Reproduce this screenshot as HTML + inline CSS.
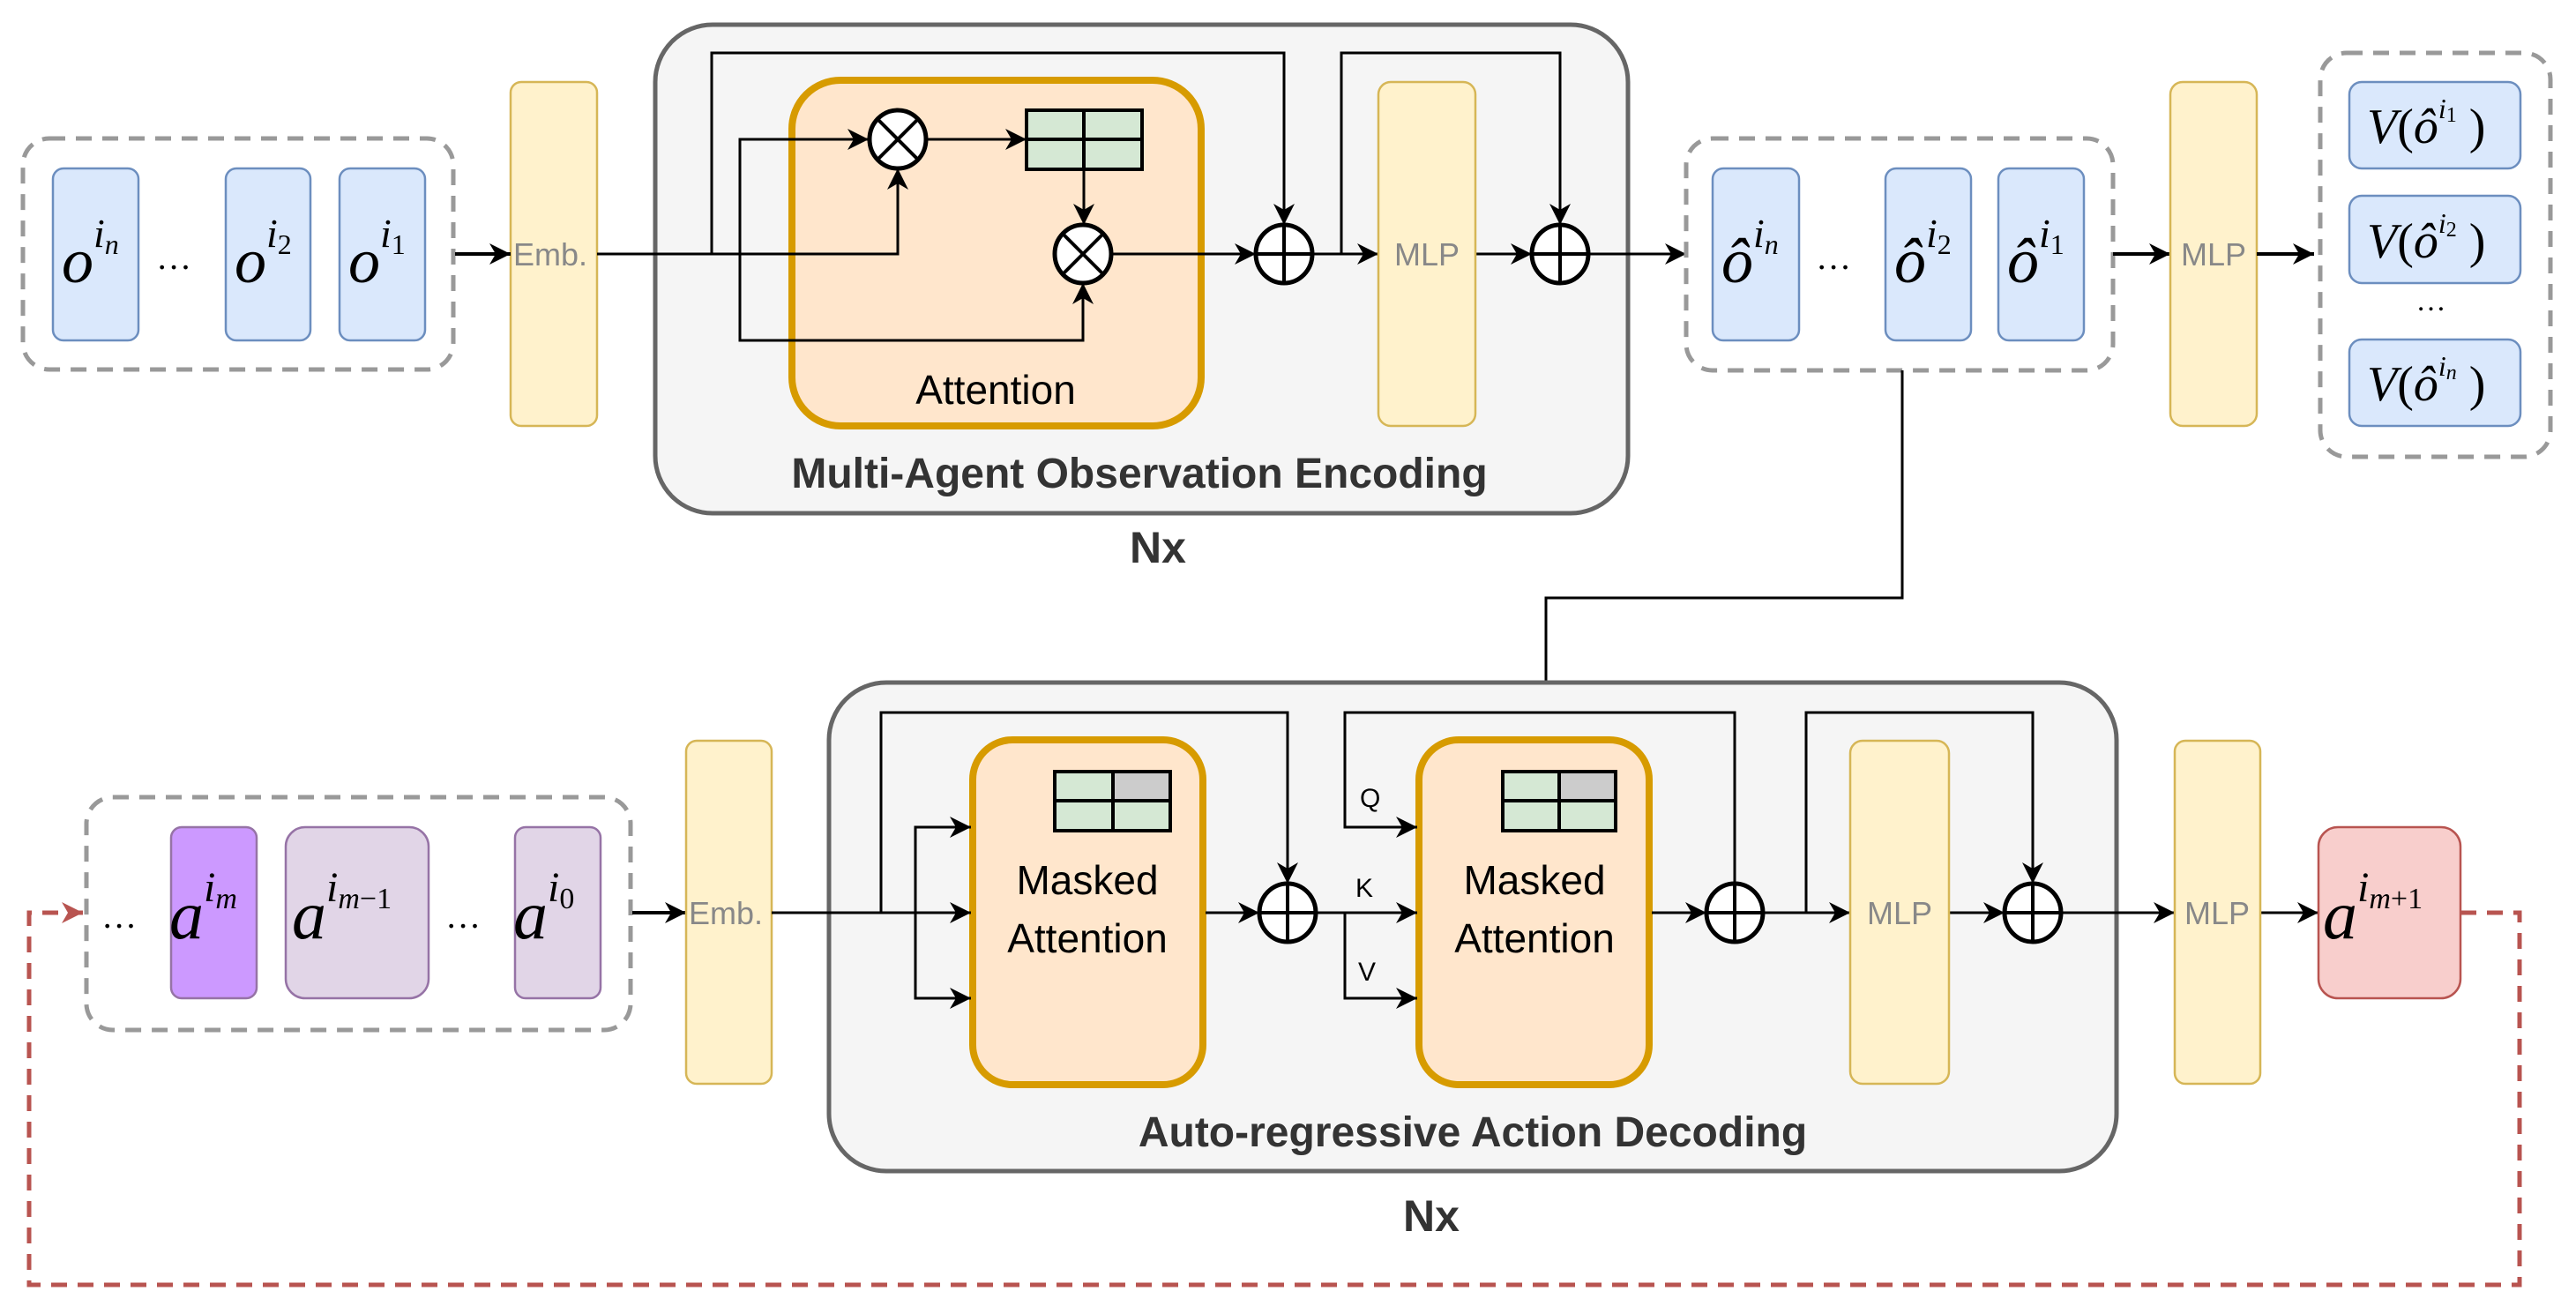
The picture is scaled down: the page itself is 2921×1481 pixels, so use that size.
<!DOCTYPE html>
<html><head><meta charset="utf-8"><style>
html,body{margin:0;padding:0;background:#fff;}
svg{display:block;}
.m{font-family:"Liberation Serif",serif;font-style:italic;fill:#000;}
.g{font-family:"Liberation Sans",sans-serif;fill:#888;font-size:36px;}
.b{font-family:"Liberation Sans",sans-serif;font-weight:bold;fill:#333;}
.t{font-family:"Liberation Sans",sans-serif;fill:#000;}
</style></head><body>
<svg width="2921" height="1481" viewBox="0 0 2921 1481" xmlns="http://www.w3.org/2000/svg">
<defs>
<marker id="a" markerUnits="userSpaceOnUse" markerWidth="30" markerHeight="30" refX="24" refY="12" orient="auto">
<path d="M0,0 L24,12 L0,24 L7,12 Z" fill="#000"/></marker>
<marker id="r" markerUnits="userSpaceOnUse" markerWidth="30" markerHeight="30" refX="24" refY="12" orient="auto">
<path d="M0,0 L24,12 L0,24 L7,12 Z" fill="#b85450"/></marker>
</defs>

<!-- ===== TOP ===== -->
<rect x="743" y="28" width="1103" height="554" rx="65" fill="#f5f5f5" stroke="#666" stroke-width="5"/>
<rect x="26" y="157" width="488" height="262" rx="30" fill="none" stroke="#999" stroke-width="5" stroke-dasharray="18,12"/>
<g fill="#dae8fc" stroke="#6c8ebf" stroke-width="2.5">
<rect x="60" y="191" width="97" height="195" rx="12"/>
<rect x="256" y="191" width="96" height="195" rx="12"/>
<rect x="385" y="191" width="97" height="195" rx="12"/>
</g>
<text class="m" x="70" y="320" font-size="72">o<tspan font-size="46" dy="-40">i</tspan><tspan font-size="32" dy="8">n</tspan></text>
<text class="m" x="180" y="305" font-size="40" font-style="normal">…</text>
<text class="m" x="266" y="320" font-size="72">o<tspan font-size="46" dy="-40">i</tspan><tspan font-size="32" dy="8" font-style="normal">2</tspan></text>
<text class="m" x="395" y="320" font-size="72">o<tspan font-size="46" dy="-40">i</tspan><tspan font-size="32" dy="8" font-style="normal">1</tspan></text>

<rect x="579" y="93" width="98" height="390" rx="12" fill="#fff2cc" stroke="#d6b656" stroke-width="2.5"/>
<text class="g" x="582" y="301">Emb.</text>
<line x1="516" y1="288" x2="579" y2="288" stroke="#000" stroke-width="4" marker-end="url(#a)"/>

<rect x="898" y="91" width="464" height="392" rx="55" fill="#ffe6cc" stroke="#d79b00" stroke-width="8"/>
<rect x="1164" y="125" width="131" height="67" fill="#d5e8d4" stroke="#000" stroke-width="4"/>
<line x1="1164" y1="158" x2="1295" y2="158" stroke="#000" stroke-width="4"/>
<line x1="1229" y1="125" x2="1229" y2="192" stroke="#000" stroke-width="4"/>
<text class="t" x="1129" y="458" font-size="46" text-anchor="middle">Attention</text>
<text class="b" x="1292" y="553" font-size="48" text-anchor="middle">Multi-Agent Observation Encoding</text>
<text class="b" x="1313" y="638" font-size="50" text-anchor="middle">Nx</text>

<g fill="none" stroke="#000" stroke-width="3">
<polyline points="677,288 1018,288 1018,191" marker-end="url(#a)"/>
<polyline points="807,288 807,60 1456,60 1456,255" marker-end="url(#a)"/>
<polyline points="839,288 839,158 985,158" marker-end="url(#a)"/>
<polyline points="839,288 839,386 1228,386 1228,321" marker-end="url(#a)"/>
<line x1="1051" y1="158" x2="1164" y2="158" marker-end="url(#a)"/>
<line x1="1229" y1="192" x2="1229" y2="255" marker-end="url(#a)"/>
<line x1="1261" y1="288" x2="1424" y2="288" marker-end="url(#a)"/>
<polyline points="1488,288 1563,288" marker-end="url(#a)"/>
<polyline points="1521,288 1521,60 1769,60 1769,255" marker-end="url(#a)"/>
<line x1="1673" y1="288" x2="1737" y2="288" marker-end="url(#a)"/>
<line x1="1801" y1="288" x2="1912" y2="288" marker-end="url(#a)"/>
</g>
<g stroke="#000" stroke-width="5" fill="#fff">
<ellipse cx="1018" cy="158" rx="32" ry="33"/>
<ellipse cx="1228" cy="288" rx="32" ry="33"/>
<ellipse cx="1456" cy="288" rx="32" ry="33"/>
<ellipse cx="1769" cy="288" rx="32" ry="33"/>
</g>
<g stroke="#000" stroke-width="4">
<line x1="995" y1="135" x2="1041" y2="181"/><line x1="1041" y1="135" x2="995" y2="181"/>
<line x1="1205" y1="265" x2="1251" y2="311"/><line x1="1251" y1="265" x2="1205" y2="311"/>
<line x1="1424" y1="288" x2="1488" y2="288"/><line x1="1456" y1="255" x2="1456" y2="321"/>
<line x1="1737" y1="288" x2="1801" y2="288"/><line x1="1769" y1="255" x2="1769" y2="321"/>
</g>

<rect x="1563" y="93" width="110" height="390" rx="14" fill="#fff2cc" stroke="#d6b656" stroke-width="2.5"/>
<text class="g" x="1618" y="301" text-anchor="middle">MLP</text>

<rect x="1912" y="157" width="484" height="263" rx="30" fill="none" stroke="#999" stroke-width="5" stroke-dasharray="18,12"/>
<g fill="#dae8fc" stroke="#6c8ebf" stroke-width="2.5">
<rect x="1942" y="191" width="98" height="195" rx="12"/>
<rect x="2138" y="191" width="97" height="195" rx="12"/>
<rect x="2266" y="191" width="97" height="195" rx="12"/>
</g>
<g class="m" font-size="72">
<text x="1952" y="320">ô<tspan font-size="46" dy="-40">i</tspan><tspan font-size="32" dy="8">n</tspan></text>
<text x="2148" y="320">ô<tspan font-size="46" dy="-40">i</tspan><tspan font-size="32" dy="8" font-style="normal">2</tspan></text>
<text x="2276" y="320">ô<tspan font-size="46" dy="-40">i</tspan><tspan font-size="32" dy="8" font-style="normal">1</tspan></text>
</g>
<text class="m" x="2062" y="305" font-size="40" font-style="normal">…</text>
<line x1="2396" y1="288" x2="2461" y2="288" stroke="#000" stroke-width="4" marker-end="url(#a)"/>
<rect x="2461" y="93" width="98" height="390" rx="14" fill="#fff2cc" stroke="#d6b656" stroke-width="2.5"/>
<text class="g" x="2510" y="301" text-anchor="middle">MLP</text>
<line x1="2559" y1="288" x2="2624" y2="288" stroke="#000" stroke-width="4" marker-end="url(#a)"/>

<rect x="2631" y="60" width="261" height="458" rx="30" fill="none" stroke="#999" stroke-width="5" stroke-dasharray="18,12"/>
<g fill="#dae8fc" stroke="#6c8ebf" stroke-width="2.5">
<rect x="2664" y="93" width="194" height="98" rx="14"/>
<rect x="2664" y="222" width="194" height="99" rx="14"/>
<rect x="2664" y="385" width="194" height="98" rx="14"/>
</g>
<g class="m" font-size="56">
<text x="2684" y="162">V<tspan font-style="normal">(</tspan>ô<tspan font-size="32" dy="-28">i</tspan><tspan font-size="24" dy="4" font-style="normal">1</tspan><tspan font-style="normal" font-size="56" dy="24"> )</tspan></text>
<text x="2684" y="292">V<tspan font-style="normal">(</tspan>ô<tspan font-size="32" dy="-28">i</tspan><tspan font-size="24" dy="4" font-style="normal">2</tspan><tspan font-style="normal" font-size="56" dy="24"> )</tspan></text>
<text x="2684" y="454">V<tspan font-style="normal">(</tspan>ô<tspan font-size="32" dy="-28">i</tspan><tspan font-size="24" dy="4">n</tspan><tspan font-style="normal" font-size="56" dy="24"> )</tspan></text>
</g>
<text class="m" x="2742" y="352" font-size="34" font-style="normal">…</text>

<polyline points="2157,420 2157,678 1753,678 1753,808" fill="none" stroke="#000" stroke-width="3"/>

<!-- ===== BOTTOM ===== -->
<rect x="940" y="774" width="1460" height="554" rx="65" fill="#f5f5f5" stroke="#666" stroke-width="5"/>
<rect x="98" y="904" width="617" height="264" rx="30" fill="none" stroke="#999" stroke-width="5" stroke-dasharray="18,12"/>
<rect x="194" y="938" width="97" height="194" rx="12" fill="#cc99ff" stroke="#9673a6" stroke-width="2.5"/>
<rect x="324" y="938" width="162" height="194" rx="22" fill="#e1d5e7" stroke="#9673a6" stroke-width="2.5"/>
<rect x="584" y="938" width="97" height="194" rx="12" fill="#e1d5e7" stroke="#9673a6" stroke-width="2.5"/>
<g class="m" font-size="78">
<text x="192" y="1064">a<tspan font-size="48" dy="-42">i</tspan><tspan font-size="34" dy="8">m</tspan></text>
<text x="331" y="1064">a<tspan font-size="48" dy="-42">i</tspan><tspan font-size="34" dy="8">m</tspan><tspan font-size="34" font-style="normal">−1</tspan></text>
<text x="582" y="1064">a<tspan font-size="48" dy="-42">i</tspan><tspan font-size="34" dy="8" font-style="normal">0</tspan></text>
</g>
<g class="m" font-size="40" font-style="normal"><text x="118" y="1052">…</text><text x="508" y="1052">…</text></g>
<line x1="717" y1="1035" x2="778" y2="1035" stroke="#000" stroke-width="4" marker-end="url(#a)"/>
<rect x="778" y="840" width="97" height="389" rx="12" fill="#fff2cc" stroke="#d6b656" stroke-width="2.5"/>
<text class="g" x="781" y="1048">Emb.</text>

<rect x="1103" y="839" width="261" height="391" rx="45" fill="#ffe6cc" stroke="#d79b00" stroke-width="8"/>
<rect x="1609" y="839" width="261" height="391" rx="45" fill="#ffe6cc" stroke="#d79b00" stroke-width="8"/>
<g stroke="#000" stroke-width="4">
<rect x="1196" y="875" width="131" height="67" fill="#d5e8d4"/>
<rect x="1262" y="875" width="65" height="33" fill="#cccccc"/>
<line x1="1196" y1="908" x2="1327" y2="908"/><line x1="1262" y1="875" x2="1262" y2="942"/>
<rect x="1704" y="875" width="128" height="67" fill="#d5e8d4"/>
<rect x="1768" y="875" width="64" height="33" fill="#cccccc"/>
<line x1="1704" y1="908" x2="1832" y2="908"/><line x1="1768" y1="875" x2="1768" y2="942"/>
</g>
<g class="t" font-size="46" text-anchor="middle">
<text x="1233" y="1014">Masked</text><text x="1233" y="1080">Attention</text>
<text x="1740" y="1014">Masked</text><text x="1740" y="1080">Attention</text>
</g>
<g class="t" font-size="30"><text x="1542" y="915">Q</text><text x="1537" y="1017">K</text><text x="1540" y="1112">V</text></g>
<text class="b" x="1670" y="1300" font-size="48" text-anchor="middle">Auto-regressive Action Decoding</text>
<text class="b" x="1623" y="1396" font-size="50" text-anchor="middle">Nx</text>

<g fill="none" stroke="#000" stroke-width="3">
<line x1="875" y1="1035" x2="1101" y2="1035" marker-end="url(#a)"/>
<polyline points="1038,1035 1038,938 1101,938" marker-end="url(#a)"/>
<polyline points="1038,1035 1038,1132 1101,1132" marker-end="url(#a)"/>
<polyline points="999,1035 999,808 1460,808 1460,1002" marker-end="url(#a)"/>
<line x1="1367" y1="1035" x2="1428" y2="1035" marker-end="url(#a)"/>
<line x1="1492" y1="1035" x2="1607" y2="1035" marker-end="url(#a)"/>
<polyline points="1967,1002 1967,808 1525,808 1525,938 1607,938" marker-end="url(#a)"/>
<polyline points="1525,1035 1525,1132 1607,1132" marker-end="url(#a)"/>
<line x1="1873" y1="1035" x2="1935" y2="1035" marker-end="url(#a)"/>
<line x1="1999" y1="1035" x2="2098" y2="1035" marker-end="url(#a)"/>
<polyline points="2048,1035 2048,808 2305,808 2305,1002" marker-end="url(#a)"/>
<line x1="2210" y1="1035" x2="2273" y2="1035" marker-end="url(#a)"/>
<line x1="2337" y1="1035" x2="2466" y2="1035" marker-end="url(#a)"/>
<line x1="2563" y1="1035" x2="2629" y2="1035" marker-end="url(#a)"/>
</g>
<g stroke="#000" stroke-width="5" fill="#fff">
<ellipse cx="1460" cy="1035" rx="32" ry="33"/>
<ellipse cx="1967" cy="1035" rx="32" ry="33"/>
<ellipse cx="2305" cy="1035" rx="32" ry="33"/>
</g>
<g stroke="#000" stroke-width="4">
<line x1="1428" y1="1035" x2="1492" y2="1035"/><line x1="1460" y1="1002" x2="1460" y2="1068"/>
<line x1="1935" y1="1035" x2="1999" y2="1035"/><line x1="1967" y1="1002" x2="1967" y2="1068"/>
<line x1="2273" y1="1035" x2="2337" y2="1035"/><line x1="2305" y1="1002" x2="2305" y2="1068"/>
</g>
<rect x="2098" y="840" width="112" height="389" rx="14" fill="#fff2cc" stroke="#d6b656" stroke-width="2.5"/>
<text class="g" x="2154" y="1048" text-anchor="middle">MLP</text>
<rect x="2466" y="840" width="97" height="389" rx="12" fill="#fff2cc" stroke="#d6b656" stroke-width="2.5"/>
<text class="g" x="2514" y="1048" text-anchor="middle">MLP</text>

<rect x="2629" y="938" width="161" height="194" rx="22" fill="#f8cecc" stroke="#b85450" stroke-width="2.5"/>
<text class="m" x="2634" y="1064" font-size="78">a<tspan font-size="48" dy="-42">i</tspan><tspan font-size="34" dy="8">m</tspan><tspan font-size="34" font-style="normal">+1</tspan></text>

<polyline points="2790,1035 2857,1035 2857,1457 33,1457 33,1035 94,1035" fill="none" stroke="#b85450" stroke-width="5" stroke-dasharray="18,12" marker-end="url(#r)"/>
</svg>
</body></html>
